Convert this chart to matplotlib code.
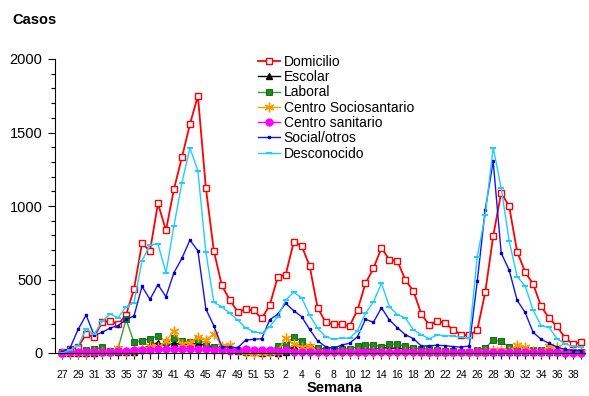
import matplotlib
matplotlib.use("Agg")
import matplotlib.pyplot as plt
from matplotlib.ticker import MultipleLocator

plt.rcParams['font.family'] = ['Liberation Sans', 'DejaVu Sans']

weeks = list(range(27, 54)) + list(range(1, 40))

domicilio = [5, 25, 43, 127, 109, 209, 218, 195, 258, 435, 746, 694, 1018, 834, 1115, 1331, 1555, 1750,
             1124, 694, 460, 360, 280, 297, 290, 235, 325, 516, 532, 753, 730, 592, 308, 209, 195, 195,
             184, 292, 474, 576, 716, 632, 626, 496, 422, 264, 190, 219, 202, 158, 124, 120, 156, 413,
             796, 1091, 997, 689, 551, 469, 318, 236, 182, 102, 61, 73]
escolar = [0, 2, 3, 3, 3, 5, 5, 5, 5, 8, 25, 55, 70, 45, 70, 55, 60, 65, 50, 35, 40, 25, 15, 8, 5, 3,
           5, 3, 10, 50, 55, 35, 25, 30, 20, 25, 20, 15, 30, 20, 40, 30, 35, 25, 20, 10, 8, 8, 10, 8,
           5, 5, 5, 5, 8, 8, 5, 8, 10, 8, 8, 10, 8, 5, 5, 5]
laboral = [5, 8, 10, 20, 25, 38, 15, 30, 228, 72, 84, 95, 118, 75, 100, 84, 72, 90, 62, 43, 30, 25,
           15, 10, 10, 10, 10, 50, 55, 110, 82, 40, 32, 20, 25, 30, 25, 45, 55, 55, 42, 58, 62, 45,
           32, 30, 25, 20, 15, 15, 10, 10, 20, 35, 88, 80, 40, 20, 25, 20, 20, 30, 15, 10, 5, 5]
sociosanitario = [0, 0, 0, 0, 5, 5, 5, 35, 10, 15, 25, 45, 40, 82, 150, 60, 70, 110, 90, 128, 48, 52,
                  20, 10, 0, 0, 5, 10, 104, 60, 43, 50, 10, 5, 5, 5, 5, 5, 5, 5, 5, 5, 5, 5, 5, 5, 5,
                  5, 5, 5, 5, 5, 5, 10, 20, 20, 15, 55, 38, 15, 10, 45, 40, 15, 10, 5]
sanitario = [2, 5, 6, 8, 8, 10, 10, 12, 12, 18, 20, 22, 25, 27, 30, 30, 27, 25, 25, 22, 20, 15, 20,
             24, 22, 20, 20, 15, 18, 10, 8, 5, 5, 4, 5, 5, 6, 5, 5, 5, 4, 5, 5, 4, 5, 5, 4, 5, 5, 4,
             5, 6, 5, 5, 6, 5, 5, 4, 5, 5, 5, 4, 4, 3, 3, 3]
social = [5, 36, 161, 258, 120, 140, 170, 186, 229, 252, 453, 365, 465, 383, 546, 644, 768, 696, 299,
          186, 43, 40, 36, 88, 93, 97, 226, 264, 338, 288, 247, 161, 82, 43, 32, 54, 66, 111, 229,
          209, 308, 224, 172, 124, 98, 47, 50, 52, 50, 43, 40, 48, 487, 975, 1303, 680, 564, 358,
          276, 141, 93, 66, 40, 25, 16, 16]
desconocido = [0, 20, 50, 163, 127, 215, 265, 240, 315, 342, 626, 737, 741, 546, 864, 1158, 1394,
               1240, 687, 345, 315, 270, 224, 170, 145, 134, 179, 247, 360, 413, 376, 258, 168, 111,
               93, 100, 100, 152, 270, 349, 474, 315, 261, 238, 158, 124, 98, 122, 118, 116, 107,
               102, 655, 938, 1397, 1122, 763, 519, 457, 292, 186, 174, 96, 63, 45, 43]

series_names = ["Domicilio", "Escolar", "Laboral", "Centro Sociosantario", "Centro sanitario",
                "Social/otros", "Desconocido"]

W, H = 589, 396
fig = plt.figure(figsize=(W / 100, H / 100), dpi=100)
ax = fig.add_axes([55 / W, (H - 353) / H, (585 - 55) / W, (353 - 59) / H])

x = list(range(len(weeks)))

ax.plot(x, domicilio, color='#FF0000', lw=1.3, marker='s', ms=4.5, mfc='white', mec='#FF0000',
        mew=1.0, label=series_names[0], clip_on=False)
ax.plot(x, escolar, color='black', lw=1.0, marker='^', ms=4, mfc='black', mec='black',
        label=series_names[1], clip_on=False)
ax.plot(x, laboral, color='#33A033', lw=1.0, marker='s', ms=5, mfc='#1E8A1E', mec='#0B5A0B',
        mew=0.6, label=series_names[2], clip_on=False)
ax.plot(x, sociosanitario, color='#FF9900', lw=1.0, marker=(6, 2, 0), ms=7, mec='#FF9900',
        mew=1.0, label=series_names[3], clip_on=False)
ax.plot(x, sanitario, color='#FF00FF', lw=1.0, marker='o', ms=5, mfc='#FF00FF', mec='#FF00FF',
        label=series_names[4], clip_on=False)
ax.plot(x, social, color='#1515F0', lw=1.0, marker='s', ms=1.8, mfc='#0000C0', mec='#0000C0',
        label=series_names[5], clip_on=False)
ax.plot(x, desconocido, color='#22CCFF', lw=1.0, marker='_', ms=5, mew=1.5, mec='#22CCFF',
        label=series_names[6], clip_on=False)

ax.set_xlim(-0.9, 65.5)
ax.set_ylim(0, 2000)

ax.yaxis.set_major_locator(MultipleLocator(500))
ax.yaxis.set_minor_locator(MultipleLocator(100))
ax.set_xticks(x, minor=True)
ax.set_xticks(x[::2])
ax.set_xticklabels([str(w) for w in weeks[::2]], fontsize=7.5)
ax.tick_params(axis='x', which='both', direction='out', length=4, width=0.8, pad=8)
ax.tick_params(axis='y', which='major', direction='out', length=5, width=0.8, labelsize=10.5, pad=4)
ax.tick_params(axis='y', which='minor', direction='out', length=3, width=0.8)

for s in ['top', 'right']:
    ax.spines[s].set_visible(False)
for s in ['left', 'bottom']:
    ax.spines[s].set_linewidth(0.8)

fig.text(12 / W, 1 - 20 / H, "Casos", fontsize=10.5, fontweight='bold', va='center', ha='left')
fig.text(335 / W, 1.0 / H, "Semana", fontsize=10.5, fontweight='bold', va='bottom', ha='center')

leg = ax.legend(loc='upper left', bbox_to_anchor=(258 / W, 1 - 55 / H),
                bbox_transform=fig.transFigure, frameon=False, fontsize=10, borderpad=0,
                borderaxespad=0, labelspacing=0.09, handlelength=1.6, handletextpad=0.25)

fig.savefig("out.png", dpi=100)
